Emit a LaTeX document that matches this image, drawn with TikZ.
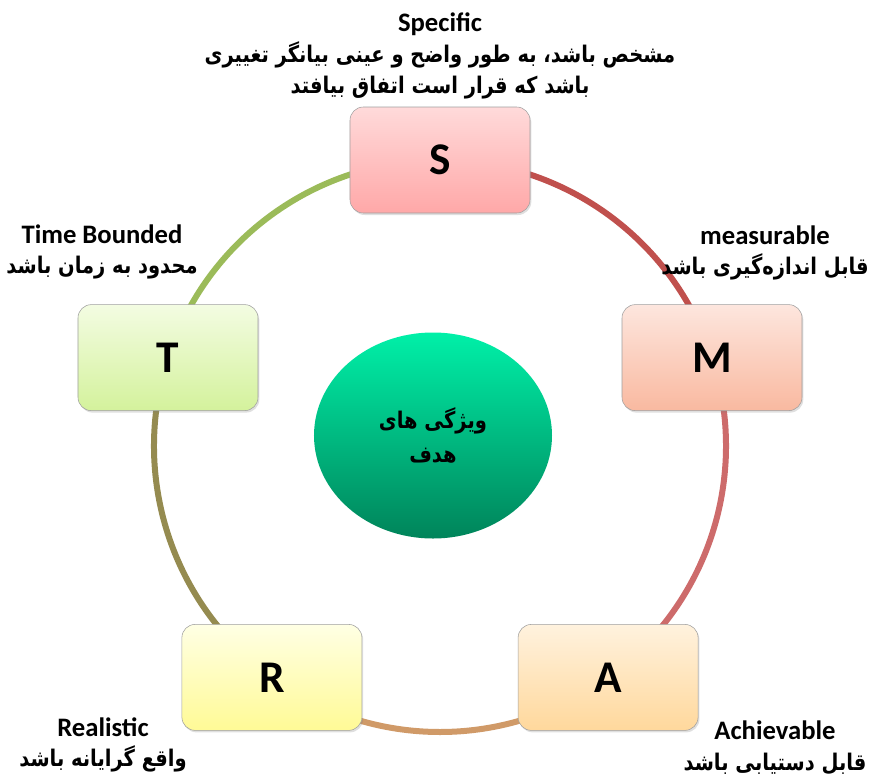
\documentclass[tikz,border=0pt]{standalone}
\usepackage{fontspec}
\setmainfont{Carlito}
\newfontfamily\arabicfont[Script=Arabic, Scale=0.86, FakeStretch=0.85]{DejaVu Sans}
\TeXXeTstate=1
\usetikzlibrary{shapes.geometric,shadows,backgrounds}
\newcommand{\fatext}[1]{{\arabicfont\bfseries\beginR #1\endR}}
\definecolor{ringSM}{HTML}{C0504D}
\definecolor{ringMA}{HTML}{CD6B6B}
\definecolor{ringAR}{HTML}{D09A68}
\definecolor{ringRT}{HTML}{958B50}
\definecolor{ringTS}{HTML}{9BBB59}

\begin{document}
\begin{tikzpicture}[x=0.75pt,y=0.75pt]
  \tikzset{
    letterbox/.style={draw=gray!75, rounded corners=10pt, minimum width=135pt,
      minimum height=79.5pt, font=\fontsize{34}{40}\selectfont\bfseries,
      drop shadow={opacity=0.25, shadow xshift=1pt, shadow yshift=-1.5pt}},
    caption/.style={align=center, font=\fontsize{20}{23}\selectfont\bfseries},
    ring/.style={line width=4.5pt}
  }
  \useasboundingbox (-440,-330) rectangle (430,446);
  % the five letters on a circle of radius 286
  \node[letterbox, top color={rgb,255:red,255;green,218;blue,218}, bottom color={rgb,255:red,255;green,168;blue,168}] (S) at (90:286) {S};
  \node[letterbox, top color={rgb,255:red,253;green,230;blue,222}, bottom color={rgb,255:red,249;green,185;blue,160}] (M) at (18:286) {M};
  \node[letterbox, top color={rgb,255:red,255;green,242;blue,222}, bottom color={rgb,255:red,255;green,216;blue,156}] (A) at (-54:286) {A};
  \node[letterbox, top color={rgb,255:red,255;green,255;blue,228}, bottom color={rgb,255:red,255;green,250;blue,150}] (R) at (-126:286) {R};
  \node[letterbox, top color={rgb,255:red,243;green,252;blue,226}, bottom color={rgb,255:red,212;green,242;blue,156}] (T) at (162:286) {T};
  \node[ellipse, minimum width=178.5pt, minimum height=154.5pt, align=center,
    top color={rgb,255:red,0;green,240;blue,168}, bottom color={rgb,255:red,0;green,132;blue,90},
    font=\fontsize{20}{26}\selectfont] (goal) at (-7,10.5) {\fatext{ویژگی های}\\\fatext{هدف}};
  % labels
  \node[caption] (specific) at (0,390) {Specific\\\fatext{مشخص باشد، به طور واضح و عینی بیانگر تغییری}\\\fatext{باشد که قرار است اتفاق بیافتد}};
  \node[caption] (measurable) at (325,193) {measurable\\\fatext{قابل اندازه‌گیری باشد}};
  \node[caption] (timebounded) at (-338,194) {Time Bounded\\\fatext{محدود به زمان باشد}};
  \node[caption] (realistic) at (-337,-299) {Realistic\\\fatext{واقع گرایانه باشد}};
  \node[caption] (achievable) at (335,-302) {Achievable\\\fatext{قابل دستیابی باشد}};
  % ring segments behind the boxes
  \begin{scope}[on background layer]
    \draw[ring, ringSM] (S.center) arc[start angle=90, end angle=18, radius=286];
    \draw[ring, ringMA] (M.center) arc[start angle=18, end angle=-54, radius=286];
    \draw[ring, ringAR] (A.center) arc[start angle=-54, end angle=-126, radius=286];
    \draw[ring, ringRT] (R.center) arc[start angle=-126, end angle=-198, radius=286];
    \draw[ring, ringTS] (T.center) arc[start angle=162, end angle=90, radius=286];
  \end{scope}
\end{tikzpicture}
\end{document}
